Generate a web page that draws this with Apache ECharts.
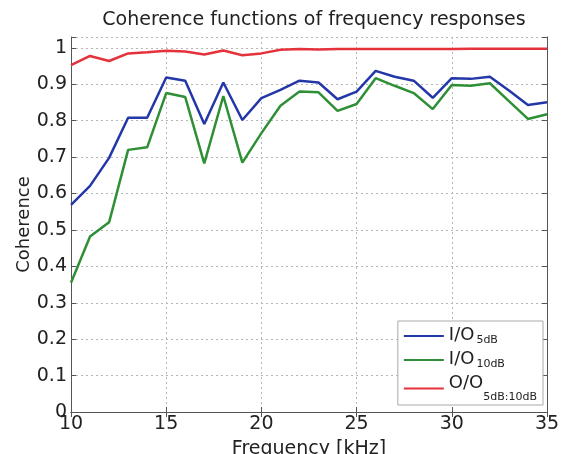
<!DOCTYPE html>
<html>
<head>
<meta charset="utf-8">
<script src="https://cdn.jsdelivr.net/npm/echarts@6/dist/echarts.min.js"></script>
<style>
  html, body { margin: 0; padding: 0; background: #fff; }
  #chart { width: 563px; height: 454px; }
</style>
</head>
<body>
<div id="chart"></div>
<script>
// frequencies in kHz, one point per kHz
var freqs = [10, 11, 12, 13, 14, 15, 16, 17, 18, 19, 20, 21, 22,
             23, 24, 25, 26, 27, 28, 29, 30, 31, 32, 33, 34, 35];

// coherence
var io5dB = [0.569, 0.621, 0.698, 0.808, 0.808, 0.919, 0.910, 0.791, 0.905, 0.802, 0.862, 0.885, 0.910,
             0.905, 0.859, 0.880, 0.937, 0.921, 0.910, 0.863, 0.917, 0.915, 0.921, 0.883, 0.843, 0.851];
var io10dB = [0.355, 0.482, 0.521, 0.720, 0.727, 0.876, 0.865, 0.683, 0.868, 0.685, 0.766, 0.841, 0.880,
              0.878, 0.827, 0.846, 0.917, 0.896, 0.876, 0.832, 0.898, 0.896, 0.903, 0.854, 0.805, 0.818];
var oo = [0.953, 0.978, 0.964, 0.985, 0.988, 0.992, 0.990, 0.982, 0.993, 0.980, 0.985, 0.995, 0.997,
          0.996, 0.997, 0.997, 0.997, 0.997, 0.997, 0.997, 0.997, 0.998, 0.998, 0.998, 0.998, 0.998];

var FONT = '"DejaVu Sans", sans-serif';

function pairs(ys) {
    return freqs.map(function (f, i) { return [f, ys[i]]; });
}

function yLabel(v) {
    if (v > 1.0001) return '';
    if (Math.abs(v) < 1e-9) return '0';
    if (Math.abs(v - 1) < 1e-9) return '1';
    return v.toFixed(1);
}

var axisLine = { lineStyle: { color: '#555', width: 1 } };
var inTick = { inside: true, length: 5, lineStyle: { color: '#555' } };
var grid = { show: true, type: [2, 3], color: '#b5b5b5', width: 1 };

var chart = echarts.init(document.getElementById('chart'));
chart.setOption({
    animation: false,
    textStyle: { fontFamily: FONT },
    title: {
        text: 'Coherence functions of frequency responses',
        left: 309, top: 6, textAlign: 'center',
        textStyle: { fontFamily: FONT, fontSize: 19, fontWeight: 'normal', color: '#222' }
    },
    grid: { left: 71, right: 16, top: 37, bottom: 42, outerBoundsMode: 'none', containLabel: false },
    xAxis: [{
        type: 'value', min: 10, max: 35, interval: 5,
        name: 'Frequency [kHz]', nameLocation: 'middle', nameGap: 28,
        nameTextStyle: { fontFamily: FONT, fontSize: 19, color: '#222' },
        axisLine: axisLine, axisTick: inTick,
        axisLabel: { fontFamily: FONT, fontSize: 19, color: '#222', margin: 3 },
        splitLine: { lineStyle: grid }
    }, {
        type: 'value', min: 10, max: 35, interval: 5, position: 'top',
        axisLine: axisLine, axisTick: inTick,
        axisLabel: { show: false }, splitLine: { show: false }
    }],
    yAxis: [{
        type: 'value', min: 0, max: 1.03, interval: 0.1,
        name: 'Coherence', nameLocation: 'middle', nameGap: 38, nameRotate: 90,
        nameMoveOverlap: false,
        nameTextStyle: { fontFamily: FONT, fontSize: 18, color: '#222' },
        axisLine: axisLine, axisTick: inTick,
        axisLabel: { fontFamily: FONT, fontSize: 19, color: '#222', margin: 4, formatter: yLabel },
        splitLine: { lineStyle: grid }
    }, {
        type: 'value', min: 0, max: 1.03, interval: 0.1, position: 'right',
        axisLine: axisLine, axisTick: inTick,
        axisLabel: { show: false }, splitLine: { show: false }
    }],
    legend: {
        orient: 'vertical',
        right: 20, top: 321,
        backgroundColor: '#fff',
        borderColor: '#aaa', borderWidth: 1, borderRadius: 0,
        padding: [5, 6, 2, 6],
        itemWidth: 40, itemHeight: 10, itemGap: 4,
        icon: 'path://M0,4 L40,4 L40,6 L0,6 Z',
        data: ['io5', 'io10', 'oo'],
        formatter: function (name) {
            if (name === 'io5') return '{a|I/O}{s|5dB}';
            if (name === 'io10') return '{a|I/O}{s|10dB}';
            return '{a|O/O}{d|5dB:10dB}';
        },
        textStyle: {
            fontFamily: FONT,
            rich: {
                a: { fontFamily: FONT, fontSize: 18, color: '#222', verticalAlign: 'top', lineHeight: 20 },
                s: { fontFamily: FONT, fontSize: 11, color: '#222', padding: [8, 0, 0, 2], verticalAlign: 'bottom' },
                d: { fontFamily: FONT, fontSize: 11, color: '#222', padding: [18, 0, 0, 0], verticalAlign: 'bottom' }
            }
        }
    },
    series: [
        { name: 'io5', type: 'line', data: pairs(io5dB), showSymbol: false,
          lineStyle: { color: '#2437a8', width: 2.5 }, itemStyle: { color: '#2437a8' } },
        { name: 'io10', type: 'line', data: pairs(io10dB), showSymbol: false,
          lineStyle: { color: '#2f8f35', width: 2.5 }, itemStyle: { color: '#2f8f35' } },
        { name: 'oo', type: 'line', data: pairs(oo), showSymbol: false,
          lineStyle: { color: '#e5323a', width: 2.5 }, itemStyle: { color: '#e5323a' } }
    ]
});
</script>
</body>
</html>
